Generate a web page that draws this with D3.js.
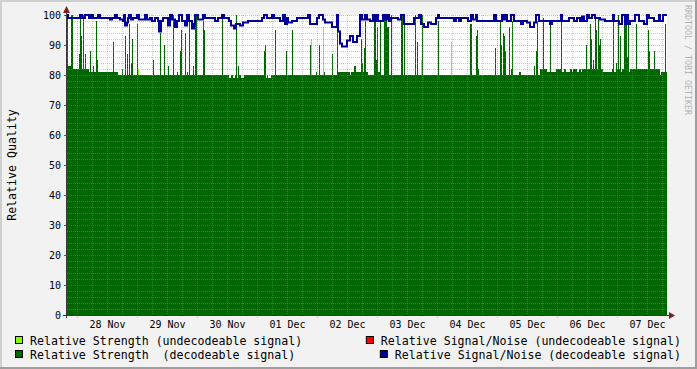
<!DOCTYPE html>
<html>
<head>
<meta charset="utf-8">
<script src="https://cdn.jsdelivr.net/npm/d3@7"></script>
<style>
  body { margin: 0; background: #f2f2f2; }
  svg text { font-family: "DejaVu Sans Mono", monospace; }
</style>
</head>
<body>
<svg id="chart" width="697" height="369"></svg>
<script>
// one sample every 24 minutes, 600 samples, starting 27 Nov 20:00
const startTime = new Date(2023, 10, 27, 20, 0);
const sampleMinutes = 24;
const sampleCount = 600;

// baseline of decodeable strength, run-length: [sample, value]
const strengthBase = [
  [0, 83], [6, 82], [22, 81], [51, 80], [162, 79], [164, 80], [166, 79], [168, 80],
  [170, 79], [172, 80], [174, 79], [177, 80], [198, 79], [200, 80], [201, 79], [204, 80],
  [270, 81], [283, 80], [284, 81], [287, 83], [289, 81], [301, 80], [309, 81], [314, 80],
  [452, 81], [454, 80], [473, 82], [480, 81], [489, 82], [495, 81], [497, 82], [499, 81],
  [503, 82], [505, 81], [506, 82], [510, 81], [512, 82], [514, 81], [515, 82], [536, 81],
  [545, 82], [547, 81], [550, 82], [553, 81], [555, 82], [560, 81], [563, 82], [593, 80],
  [594, 81]
];

// spikes of decodeable strength: [sample, value]
const strengthSpikes = [
  [0, 100], [4, 100], [5, 100], [12, 87], [13, 100], [14, 93], [16, 100], [18, 87],
  [23, 88], [26, 83], [29, 98], [30, 85], [46, 91], [55, 82], [58, 93], [60, 87],
  [62, 97], [64, 84], [65, 92], [70, 97], [86, 85], [93, 94], [97, 90], [101, 83],
  [106, 100], [110, 81], [113, 88], [114, 95], [118, 94], [120, 81], [122, 100], [126, 83],
  [128, 100], [129, 100], [136, 98], [137, 95], [155, 99], [169, 100], [171, 83], [197, 88],
  [198, 90], [208, 95], [219, 88], [225, 95], [243, 90], [249, 81], [252, 90], [257, 81],
  [265, 87], [270, 100], [294, 92], [295, 84], [297, 89], [298, 98], [307, 100], [308, 100],
  [309, 85], [310, 96], [313, 98], [317, 100], [318, 100], [319, 100], [320, 96], [321, 96],
  [324, 100], [334, 100], [335, 100], [337, 97], [348, 100], [350, 91], [355, 100], [371, 98],
  [403, 97], [404, 97], [409, 93], [410, 95], [411, 82], [428, 89], [433, 98], [434, 90],
  [436, 94], [437, 93], [438, 88], [442, 96], [444, 82], [445, 98], [467, 83], [469, 88],
  [470, 98], [476, 99], [483, 97], [494, 99], [519, 90], [523, 97], [524, 92], [526, 85],
  [528, 99], [529, 95], [531, 99], [532, 90], [533, 92], [546, 98], [549, 84], [551, 100],
  [553, 93], [557, 100], [558, 100], [559, 100], [560, 86], [561, 100], [569, 97], [581, 95],
  [582, 88], [587, 88], [598, 97]
];

// undecodeable strength: [sample, value]
const undecodeableSpikes = [[71, 82], [244, 92], [256, 96], [354, 85], [384, 91]];

// decodeable signal/noise, run-length: [sample, value]
const snrRuns = [
  [0, 100], [1, 99], [13, 100], [15, 99], [18, 100], [22, 99], [24, 100], [26, 99],
  [31, 100], [33, 99], [43, 98.5], [45, 99], [48, 100], [50, 99], [53, 98.5], [56, 98],
  [57, 100], [58, 96.5], [60, 97.5], [61, 99], [62, 100], [64, 98.5], [66, 99], [70, 100],
  [72, 98.5], [78, 100], [80, 98.5], [83, 99], [85, 98], [88, 99], [91, 98], [92, 94.5],
  [94, 98], [96, 99], [101, 96.5], [103, 100], [105, 98.5], [108, 96], [110, 98], [112, 100],
  [115, 98], [118, 96.5], [120, 100], [122, 98], [125, 95.5], [127, 97], [128, 100], [131, 98.5],
  [136, 100], [138, 99], [148, 98], [151, 99], [155, 100], [157, 99], [162, 98], [164, 96.5],
  [167, 95.5], [169, 97], [173, 96.5], [176, 97.5], [181, 98], [195, 99], [197, 100], [200, 99],
  [205, 100], [207, 99], [213, 98], [216, 100], [218, 97], [220, 99], [221, 97.5], [225, 98],
  [230, 99], [241, 100], [243, 97], [250, 99], [252, 100], [256, 98.5], [258, 97.5], [265, 96],
  [270, 100], [271, 94.5], [273, 90.5], [275, 89.5], [280, 91.5], [283, 93], [286, 91], [290, 93],
  [293, 100], [295, 98.5], [298, 100], [300, 98.5], [303, 98], [306, 100], [307, 98], [309, 100],
  [311, 98], [316, 100], [318, 98.5], [320, 100], [322, 98], [324, 99], [331, 98.5], [334, 100],
  [337, 97], [347, 99], [352, 100], [354, 97], [357, 96], [361, 97.5], [364, 97], [369, 99],
  [371, 100], [372, 99], [387, 98], [389, 99], [392, 98], [394, 99], [401, 98], [404, 100],
  [406, 98.5], [409, 100], [410, 98], [427, 100], [429, 98], [435, 100], [437, 98.5], [438, 100],
  [440, 98], [444, 100], [447, 98], [454, 97], [456, 98], [460, 97.5], [463, 96], [467, 97.5],
  [469, 100], [472, 98], [483, 97], [485, 98], [494, 100], [495, 98], [502, 99], [507, 98],
  [510, 99], [513, 98], [515, 99.5], [517, 98], [520, 100], [522, 99], [525, 100], [528, 99],
  [533, 98.5], [538, 98], [546, 100], [547, 98], [552, 97], [555, 100], [558, 97], [560, 100],
  [561, 97], [563, 98], [568, 100], [572, 98], [577, 97], [580, 100], [582, 99], [587, 98],
  [592, 100], [593, 98], [596, 100]
];

const yTicks = [0, 10, 20, 30, 40, 50, 60, 70, 80, 90, 100];

const legendLeft = [
  { label: "Relative Strength (undecodeable signal)", color: "#80ff00" },
  { label: "Relative Strength  (decodeable signal)", color: "#006600" }
];
const legendRight = [
  { label: "Relative Signal/Noise (undecodeable signal)", color: "#ff0000" },
  { label: "Relative Signal/Noise (decodeable signal)", color: "#000099" }
];

// run-length decode into one value per sample
function expandRuns(runs) {
  const out = new Array(sampleCount).fill(0);
  runs.forEach((r, i) => {
    const end = i + 1 < runs.length ? runs[i + 1][0] : sampleCount;
    for (let s = r[0]; s < end; s++) out[s] = r[1];
  });
  return out;
}

const sampleTime = i => new Date(startTime.getTime() + i * sampleMinutes * 60000);

const strength = expandRuns(strengthBase);
strengthSpikes.forEach(([s, v]) => { strength[s] = Math.max(strength[s], v); });
const undecodeable = new Array(sampleCount).fill(0);
undecodeableSpikes.forEach(([s, v]) => { undecodeable[s] = v; });
const snr = expandRuns(snrRuns);

// series with a closing point so the last step has a width
const toSeries = arr => arr.map((v, i) => ({ t: sampleTime(i), v }))
  .concat([{ t: sampleTime(sampleCount), v: arr[sampleCount - 1] }]);

const W = 697, H = 369;
const plot = { left: 67, right: 667, top: 15, bottom: 315 };

const svg = d3.select("#chart");

// background with shading
svg.append("rect").attr("width", W).attr("height", H).attr("fill", "#f2f2f2");
svg.append("rect").attr("x", 0).attr("y", 0).attr("width", W).attr("height", 2).attr("fill", "#cfcfcf");
svg.append("rect").attr("x", 0).attr("y", 0).attr("width", 2).attr("height", H).attr("fill", "#cfcfcf");
svg.append("rect").attr("x", 0).attr("y", H - 2).attr("width", W).attr("height", 2).attr("fill", "#9e9e9e");
svg.append("rect").attr("x", W - 2).attr("y", 0).attr("width", 2).attr("height", H).attr("fill", "#9e9e9e");

svg.append("rect")
  .attr("x", plot.left).attr("y", plot.top)
  .attr("width", plot.right - plot.left).attr("height", plot.bottom - plot.top)
  .attr("fill", "#ffffff");

const x = d3.scaleTime()
  .domain([startTime, sampleTime(sampleCount)])
  .range([plot.left, plot.right]);
const y = d3.scaleLinear().domain([0, 100]).range([plot.bottom, plot.top]);

const area = d3.area()
  .x(d => x(d.t))
  .y0(y(0))
  .y1(d => y(d.v))
  .curve(d3.curveStepAfter);

svg.append("path")
  .datum(toSeries(undecodeable))
  .attr("d", area)
  .attr("fill", "#80ff00")
  .attr("shape-rendering", "crispEdges");

svg.append("path")
  .datum(toSeries(strength))
  .attr("d", area)
  .attr("fill", "#006600")
  .attr("shape-rendering", "crispEdges");

// grid is drawn over the data, like rrdtool does
const grid = svg.append("g").attr("shape-rendering", "crispEdges");
const minorColor = "rgba(143,143,143,0.45)";
const majorColor = "rgba(222,79,79,0.45)";

const minorY = d3.range(0, 101, 2).filter(v => v % 10 !== 0);
grid.selectAll(".hminor").data(minorY).enter().append("line")
  .attr("x1", plot.left).attr("x2", plot.right)
  .attr("y1", d => y(d) + 0.5).attr("y2", d => y(d) + 0.5)
  .attr("stroke", minorColor).attr("stroke-dasharray", "1,1");
grid.selectAll(".hmajor").data(yTicks.filter(v => v > 0)).enter().append("line")
  .attr("x1", plot.left).attr("x2", plot.right)
  .attr("y1", d => y(d) + 0.5).attr("y2", d => y(d) + 0.5)
  .attr("stroke", majorColor).attr("stroke-dasharray", "1,1");

const sixHours = d3.timeHour.every(6).range(startTime, sampleTime(sampleCount))
  .filter(d => d.getHours() !== 0);
const midnights = d3.timeDay.range(startTime, sampleTime(sampleCount));
grid.selectAll(".vminor").data(sixHours).enter().append("line")
  .attr("x1", d => Math.round(x(d)) + 0.5).attr("x2", d => Math.round(x(d)) + 0.5)
  .attr("y1", plot.top).attr("y2", plot.bottom + 2)
  .attr("stroke", minorColor).attr("stroke-dasharray", "1,1");
grid.selectAll(".vmajor").data(midnights).enter().append("line")
  .attr("x1", d => Math.round(x(d)) + 0.5).attr("x2", d => Math.round(x(d)) + 0.5)
  .attr("y1", plot.top).attr("y2", plot.bottom + 3)
  .attr("stroke", majorColor).attr("stroke-dasharray", "1,1");

// signal/noise line
svg.append("path")
  .datum(toSeries(snr))
  .attr("d", d3.line().x(d => x(d.t)).y(d => y(d.v)).curve(d3.curveStepAfter))
  .attr("fill", "none")
  .attr("stroke", "#000099")
  .attr("stroke-width", 2);

// axes
const yAxis = svg.append("g")
  .attr("transform", `translate(${plot.left},0)`)
  .call(d3.axisLeft(y).tickValues(yTicks).tickSize(3).tickPadding(3).tickFormat(d3.format("d")));
yAxis.select(".domain").remove();
yAxis.selectAll(".tick line").attr("stroke", "#555");
yAxis.selectAll(".tick text")
  .attr("font-family", "DejaVu Sans Mono").attr("font-size", 10).attr("fill", "#000");

const noons = midnights.map(d => d3.timeHour.offset(d, 12));
const xAxis = svg.append("g")
  .attr("transform", `translate(0,${plot.bottom})`)
  .call(d3.axisBottom(x).tickValues(noons).tickSize(0).tickPadding(6)
    .tickFormat(d3.timeFormat("%d %b")));
xAxis.select(".domain").remove();
xAxis.selectAll(".tick text")
  .attr("font-family", "DejaVu Sans Mono").attr("font-size", 10).attr("fill", "#000");

const axisColor = "#3a3a3a";
const arrowColor = "#801f1f";
svg.append("line")
  .attr("x1", plot.left - 0.5).attr("x2", plot.left - 0.5)
  .attr("y1", plot.bottom + 3).attr("y2", 9)
  .attr("stroke", axisColor);
svg.append("line")
  .attr("x1", plot.left - 4).attr("x2", plot.right + 4)
  .attr("y1", plot.bottom + 0.5).attr("y2", plot.bottom + 0.5)
  .attr("stroke", axisColor);
svg.append("path")
  .attr("d", `M${plot.left - 4},13 L${plot.left - 0.5},6 L${plot.left + 3},13 Z`)
  .attr("fill", arrowColor);
svg.append("path")
  .attr("d", `M${plot.right + 2},${plot.bottom - 3} L${plot.right + 8},${plot.bottom + 0.5} L${plot.right + 2},${plot.bottom + 4} Z`)
  .attr("fill", arrowColor);

// axis title
svg.append("text")
  .attr("transform", "translate(16,165) rotate(-90)")
  .attr("text-anchor", "middle")
  .attr("font-size", 11.6)
  .attr("fill", "#000")
  .text("Relative Quality");

// watermark
svg.append("text")
  .attr("transform", "translate(685,5) rotate(90)")
  .attr("font-size", 8.3)
  .attr("fill", "#b4b4b4")
  .text("RRDTOOL / TOBI OETIKER");

// legend
const rowY = [345, 359];
legendLeft.forEach((item, i) => {
  svg.append("rect")
    .attr("x", 15.5).attr("y", rowY[i] - 8.5).attr("width", 7).attr("height", 7)
    .attr("fill", item.color).attr("stroke", "#000");
  svg.append("text")
    .attr("x", 30).attr("y", rowY[i])
    .attr("font-size", 11.6).attr("fill", "#000")
    .attr("xml:space", "preserve")
    .style("white-space", "pre")
    .text(item.label);
});
legendRight.forEach((item, i) => {
  const t = svg.append("text")
    .attr("x", 681).attr("y", rowY[i])
    .attr("text-anchor", "end")
    .attr("font-size", 11.6).attr("fill", "#000")
    .style("white-space", "pre")
    .text(item.label);
  const len = t.node().getComputedTextLength();
  svg.append("rect")
    .attr("x", 681 - len - 14.5).attr("y", rowY[i] - 8.5).attr("width", 7).attr("height", 7)
    .attr("fill", item.color).attr("stroke", "#000");
});
</script>
</body>
</html>
